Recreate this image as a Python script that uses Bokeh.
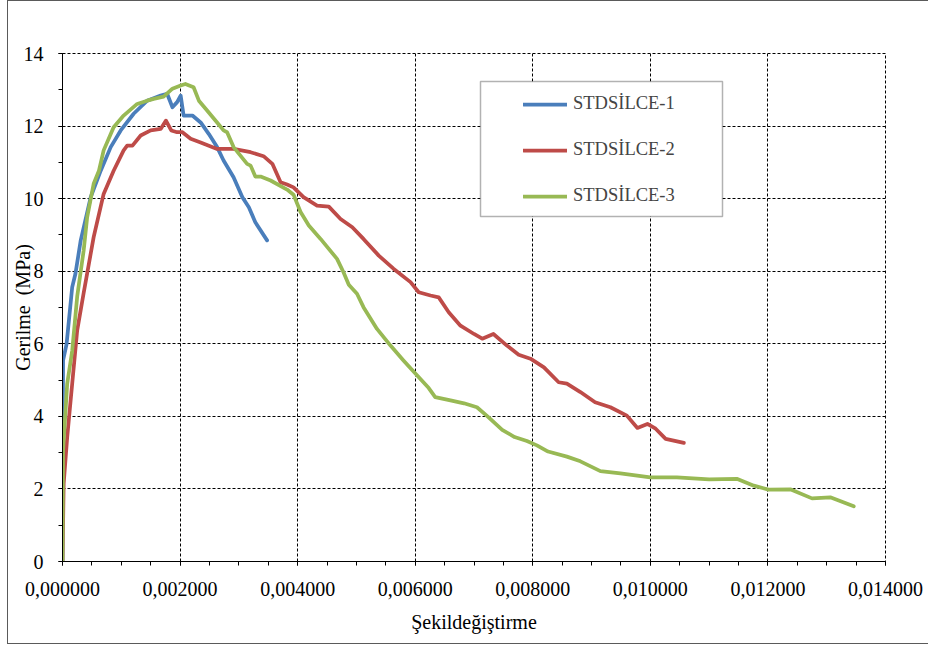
from bokeh.plotting import figure
from bokeh.models import (Range1d, CustomJSTickFormatter, BoxAnnotation, Legend,
                          LegendItem, SingleIntervalTicker, InlineStyleSheet)
from bokeh.embed import file_html
from bokeh.resources import INLINE

# ---- data (strain, stress MPa) ----
names = ["STDSİLCE-1", "STDSİLCE-2", "STDSİLCE-3"]
colors = ["#4A7EBB", "#BE4B48", "#98B954"]

strain1 = [0, 0.000003, 0.00001, 0.00007, 0.000165, 0.00022, 0.00031, 0.00048, 0.00065,
           0.00082, 0.00099, 0.00121, 0.00144, 0.00167, 0.00178, 0.00187, 0.00195, 0.00201,
           0.00206, 0.00221, 0.00235, 0.00249, 0.00263, 0.00274, 0.00291, 0.00306, 0.00317,
           0.00328, 0.00348]
stress1 = [0, 3.15, 5.54, 6.0, 7.56, 7.93, 8.85, 10.04, 10.77, 11.42, 11.88, 12.34, 12.70,
           12.84, 12.89, 12.52, 12.66, 12.84, 12.29, 12.29, 12.1, 11.78, 11.42, 11.05, 10.59,
           10.04, 9.76, 9.35, 8.85]

strain2 = [0, 0.00002, 0.00008, 0.000165, 0.00025, 0.00036, 0.00053, 0.0007, 0.00087, 0.00104,
           0.0011, 0.00119, 0.00133, 0.0015, 0.00167, 0.00176, 0.00185, 0.00195, 0.00204,
           0.00218, 0.00235, 0.00263, 0.00291, 0.0032, 0.00342, 0.00357, 0.00371, 0.00382,
           0.00393, 0.0041, 0.00433, 0.00453, 0.00473, 0.00493, 0.00512, 0.00538, 0.00563,
           0.00592, 0.00606, 0.00626, 0.0064, 0.00657, 0.00677, 0.007, 0.00714, 0.00733,
           0.00756, 0.00776, 0.00796, 0.00819, 0.00844, 0.00858, 0.00881, 0.00906, 0.00932,
           0.0096, 0.00978, 0.00995, 0.01009, 0.01026, 0.01057]
stress2 = [0, 2.15, 3.43, 4.9, 6.37, 7.4, 8.94, 10.13, 10.77, 11.33, 11.46, 11.46, 11.74, 11.88,
           11.92, 12.15, 11.88, 11.83, 11.83, 11.65, 11.55, 11.37, 11.37, 11.28, 11.17, 10.96,
           10.45, 10.39, 10.31, 10.04, 9.81, 9.78, 9.44, 9.21, 8.89, 8.43, 8.07, 7.70, 7.42,
           7.33, 7.28, 6.87, 6.50, 6.27, 6.14, 6.27, 5.95, 5.70, 5.59, 5.35, 4.94, 4.90, 4.67,
           4.39, 4.25, 4.02, 3.68, 3.79, 3.66, 3.38, 3.27]

strain3 = [0, 0.00001, 0.00008, 0.000165, 0.00025, 0.00036, 0.00042, 0.00053, 0.00062, 0.0007,
           0.00087, 0.00104, 0.00127, 0.00144, 0.00155, 0.00172, 0.00187, 0.00201, 0.00209,
           0.00223, 0.00232, 0.00246, 0.00263, 0.00274, 0.0028, 0.00291, 0.00314, 0.0032,
           0.00328, 0.00337, 0.00354, 0.00382, 0.00393, 0.00405, 0.00419, 0.00439, 0.00467,
           0.00478, 0.00487, 0.00501, 0.00512, 0.00535, 0.00558, 0.0058, 0.00603, 0.00623,
           0.00634, 0.0066, 0.00683, 0.00705, 0.00723, 0.00748, 0.00769, 0.0079, 0.00807,
           0.00826, 0.00858, 0.00881, 0.00915, 0.00949, 0.01, 0.01045, 0.0110, 0.01147,
           0.01176, 0.01201, 0.01238, 0.01275, 0.01306, 0.01346]
stress3 = [0, 3.06, 4.9, 5.81, 7.3, 8.57, 9.49, 10.41, 10.77, 11.33, 11.97, 12.29, 12.61, 12.7,
           12.75, 12.81, 13.03, 13.12, 13.16, 13.07, 12.70, 12.43, 12.1, 11.88, 11.83, 11.42,
           10.96, 10.91, 10.61, 10.61, 10.5, 10.25, 10.11, 9.63, 9.26, 8.89, 8.34, 7.97, 7.63,
           7.38, 7.01, 6.41, 5.95, 5.54, 5.13, 4.78, 4.53, 4.44, 4.36, 4.25, 4.0, 3.63, 3.43,
           3.32, 3.20, 3.03, 2.89, 2.76, 2.49, 2.43, 2.32, 2.32, 2.26, 2.28, 2.09, 1.98, 1.99,
           1.74, 1.77, 1.52]

x_label = "Şekildeğiştirme"
y_label = "Gerilme\u00a0 (MPa)"

FONT = "'Liberation Serif', 'Times New Roman', serif"

p = figure(width=928, height=645, output_backend="svg", toolbar_location=None,
           x_range=Range1d(0, 0.014), y_range=Range1d(0, 14),
           min_border_left=62, min_border_right=43, min_border_top=53, min_border_bottom=84,
           background_fill_color="white", border_fill_color="white")

p.stylesheets = [InlineStyleSheet(css=(
    ":host::after { content: ''; position: absolute; left: 7px; top: 0px; "
    "width: 960px; height: 644px; border: 1.5px solid #5a5a5a; box-sizing: border-box; "
    "pointer-events: none; }"))]

p.outline_line_color = "black"
p.outline_line_dash = "3 2"
p.outline_line_width = 1

xt = SingleIntervalTicker(interval=0.002, num_minor_ticks=4)
yt = SingleIntervalTicker(interval=2, num_minor_ticks=2)
p.xaxis.ticker = xt
p.yaxis.ticker = yt
p.xgrid.ticker = xt
p.ygrid.ticker = yt
p.grid.grid_line_color = "black"
p.grid.grid_line_dash = "3 2"
p.grid.grid_line_width = 1

p.xaxis.formatter = CustomJSTickFormatter(code="return tick.toFixed(6).replace('.', ',');")

for ax in (p.xaxis, p.yaxis):
    ax.axis_line_color = "black"
    ax.axis_line_width = 1
    ax.major_tick_in = 0
    ax.minor_tick_in = 0
    ax.major_tick_out = 4
    ax.minor_tick_out = 4
    ax.major_tick_line_color = "black"
    ax.minor_tick_line_color = "black"
    ax.major_label_text_font = FONT
    ax.major_label_text_font_size = "20px"
    ax.major_label_text_color = "black"
    ax.axis_label_text_font = FONT
    ax.axis_label_text_font_size = "20px"
    ax.axis_label_text_font_style = "normal"
    ax.axis_label_text_color = "black"

p.xaxis.axis_label = x_label
p.yaxis.axis_label = y_label
p.xaxis.major_label_standoff = 16
p.yaxis.major_label_standoff = 15
p.xaxis.axis_label_standoff = 12
p.yaxis.axis_label_standoff = -13

series = [(strain1, stress1), (strain2, stress2), (strain3, stress3)]
items = []
for (xs, ys), name, c in zip(series, names, colors):
    r = p.line(xs, ys, line_color=c, line_width=3.75, line_join="round", line_cap="round")
    items.append(LegendItem(label=name, renderers=[r]))

# legend frame
p.add_layout(BoxAnnotation(left=480, right=722, top=81, bottom=216,
                           left_units="canvas", right_units="canvas",
                           top_units="canvas", bottom_units="canvas",
                           fill_color="white", fill_alpha=1,
                           line_color="black", line_width=1.5))

legend = Legend(items=items, location=(451, 345),
                label_text_font=FONT, label_text_font_size="18.5px",
                glyph_width=44, glyph_height=20, label_height=20, label_standoff=6,
                spacing=25, padding=10, margin=0,
                border_line_alpha=0, background_fill_alpha=0)
p.add_layout(legend)

open("out.html", "w").write(file_html(p, INLINE))
